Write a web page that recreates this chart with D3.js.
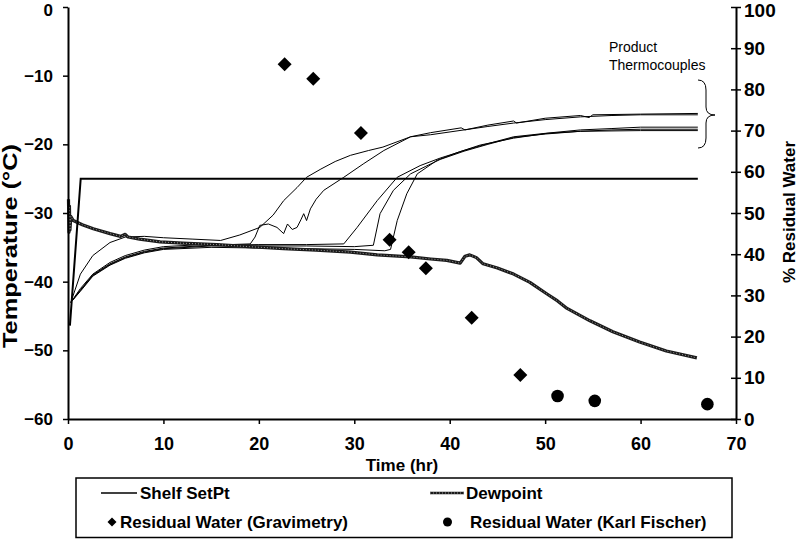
<!DOCTYPE html>
<html><head><meta charset="utf-8">
<script src="https://cdn.jsdelivr.net/npm/d3@7"></script>
<style>
html,body{margin:0;padding:0;background:#fff;}
svg{display:block;}
text{font-family:"Liberation Sans",Arial,sans-serif;}
</style></head>
<body>
<svg id="chart" width="799" height="539"></svg>
<script>
// ---- data ----
const xTicks = [0,10,20,30,40,50,60,70];
const yLeftTicks = [0,-10,-20,-30,-40,-50,-60];
const yRightTicks = [0,10,20,30,40,50,60,70,80,90,100];

const shelfSetPt = [[0.2,-46.4],[1.33,-25],[66,-25]];

const dewpoint = [[0.05,-28],[0.1,-32.8],[0.15,-29],[0.2,-32.5],[0.3,-30.5],[0.55,-31.1],[1.5,-31.7],[2.65,-32.3],[4.4,-33],[5.5,-33.4],[6,-33.1],[6.3,-33.5],[7.5,-33.8],[9.65,-34.2],[12,-34.4],[15.6,-34.6],[19,-34.9],[22.6,-35.2],[26,-35.4],[29.6,-35.7],[32.4,-36.1],[35.9,-36.4],[38,-36.7],[39.7,-36.9],[41.1,-37.3],[41.6,-36.3],[42.1,-36.1],[42.8,-36.5],[43.5,-37.4],[45,-38],[46.7,-38.9],[48.4,-40.1],[50.2,-41.8],[51.3,-42.8],[52.3,-43.9],[54.7,-45.7],[57.1,-47.3],[59.9,-48.8],[62.7,-50.1],[65.9,-51.1]];

const tc1 = [[0.3,-43],[1.3,-38.9],[2.6,-36.2],[4.4,-34.3],[6,-33.5],[8,-33.4],[10,-33.6],[13,-33.8],[16,-34],[18,-33.2],[20.1,-32.1],[21.5,-30.3],[22.6,-28.2],[24,-26.3],[25,-24.8],[26.5,-23.6],[28,-22.5],[29.6,-21.6],[31.5,-20.9],[33,-20.4],[35.9,-18.9],[38,-18.3],[41.2,-17.6],[41.6,-17.9],[44,-17.2],[46.7,-16.6],[47,-16.9],[50,-16.2],[53.7,-15.8],[54.6,-16.1],[55,-15.7],[60,-15.6],[66,-15.5]];
const tc2 = [[0.3,-43],[1.3,-41],[2.6,-38.9],[4.4,-37.2],[6,-36.2],[8,-35.4],[10,-34.9],[14,-34.6],[17,-34.6],[19.1,-34.5],[19.6,-33.5],[20.1,-31.8],[21,-31.6],[21.9,-32.1],[22.6,-33],[23,-31.6],[23.5,-32.4],[24,-32.1],[24.4,-31],[24.7,-30.1],[25,-31.1],[25.4,-29.4],[26,-28],[26.8,-26.7],[28.9,-24.8],[31,-22.8],[33.1,-20.9],[35.9,-18.9],[38,-18.6],[41.5,-17.9],[44,-17.4],[46.7,-16.9],[50,-16.4],[53.7,-16],[57,-15.8],[60,-15.7],[66,-15.7]];
const tc3 = [[0.3,-43],[1.3,-41.2],[2.6,-39],[4.4,-37.4],[6,-36.4],[8,-35.6],[10,-35.1],[15,-34.7],[20,-34.6],[25,-34.6],[28.9,-34.5],[30.3,-32.1],[32.4,-28.2],[34.5,-24.8],[36.9,-23.1],[39,-22],[41.5,-20.9],[44,-19.9],[46.7,-18.9],[50,-18.4],[53.7,-17.9],[57,-17.7],[60,-17.5],[66,-17.5]];
const tc4 = [[0.3,-43],[1.3,-41.3],[2.6,-39.1],[4.4,-37.5],[6,-36.5],[8,-35.7],[10,-35.2],[15,-34.8],[20,-34.8],[25,-34.8],[30,-34.9],[32,-34.7],[32.7,-30.1],[34.1,-26.7],[35.9,-24.3],[37.5,-23.2],[39,-22.2],[41.5,-21],[44,-20],[46.7,-19],[50,-18.5],[53.7,-18.1],[57,-17.9],[60,-17.8],[66,-17.8]];
const tc5 = [[0.3,-43],[1.3,-41.4],[2.6,-39.2],[4.4,-37.6],[6,-36.6],[8,-35.8],[10,-35.3],[15,-35],[20,-35.1],[25,-35.2],[30,-35.3],[33.2,-35.5],[33.8,-35.3],[34.1,-33.5],[34.5,-31.1],[35.5,-27.2],[36.6,-24.3],[38.7,-22.3],[41,-21.1],[43.2,-20.1],[46.7,-19.1],[50.2,-18.4],[53.7,-18.1],[60,-18],[66,-18]];
const thermocouples = [tc1, tc2, tc3, tc4, tc5];

const gravTime = [22.7,25.7,30.7,33.7,35.7,37.5,42.3,47.4];
const gravWater = [86.1,82.6,69.4,43.5,40.5,36.6,24.6,10.7];
const kfTime = [51.3,55.2,67.0];
const kfWater = [5.6,4.4,3.6];

const legendLabels = ["Shelf SetPt","Dewpoint","Residual Water (Gravimetry)","Residual Water (Karl Fischer)"];
const annotation = ["Product","Thermocouples"];

// ---- chart ----
const svg = d3.select("#chart");
const x = d3.scaleLinear().domain([0,70]).range([68,736]);
const yL = d3.scaleLinear().domain([-60,0]).range([419,7]);
const yR = d3.scaleLinear().domain([0,100]).range([419,7]);
const FONT = '"Liberation Sans",Arial,sans-serif';

const line = d3.line().x(d=>x(d[0])).y(d=>yL(d[1]));

// thermocouples
svg.append("g").selectAll("path").data(thermocouples).join("path")
  .attr("d", line).attr("fill","none").attr("stroke","#000").attr("stroke-width",1);

// dewpoint (textured)
function dewStyle(sel){
  sel.append("path").attr("fill","none").attr("stroke","#1a1a1a").attr("stroke-width",3.2).attr("stroke-linejoin","round");
  sel.append("path").attr("fill","none").attr("stroke","#9a9a9a").attr("stroke-width",1).attr("stroke-dasharray","1,2");
}
const dg = svg.append("g");
dewStyle(dg);
dg.selectAll("path").attr("d", line(dewpoint));

// shelf
svg.append("path").attr("d", line(shelfSetPt)).attr("fill","none").attr("stroke","#000").attr("stroke-width",2);

// markers
const diamond = (cx,cy,r)=>`M${cx},${cy-r}L${cx+r},${cy}L${cx},${cy+r}L${cx-r},${cy}Z`;
svg.append("g").selectAll("path").data(gravTime).join("path")
  .attr("d",(t,i)=>diamond(x(t),yR(gravWater[i]),7)).attr("fill","#000");
svg.append("g").selectAll("circle").data(kfTime).join("circle")
  .attr("cx",t=>x(t)).attr("cy",(t,i)=>yR(kfWater[i])).attr("r",6.3).attr("fill","#000");

// axes
const gx = svg.append("g").attr("transform","translate(0,419)")
  .call(d3.axisBottom(x).tickValues(xTicks).tickSize(5).tickSizeOuter(0).tickFormat(d3.format("d")));
const gl = svg.append("g").attr("transform","translate(68,0)")
  .call(d3.axisLeft(yL).tickValues(yLeftTicks).tickSize(5).tickSizeOuter(0).tickPadding(10).tickFormat(d3.format("d")));
const gr = svg.append("g").attr("transform","translate(736,0)")
  .call(d3.axisRight(yR).tickValues(yRightTicks).tickSize(5).tickSizeOuter(0).tickPadding(3).tickFormat(d3.format("d")));
gr.selectAll(".tick line").attr("x1",-5).attr("x2",5);
[gx,gl,gr].forEach(g=>{
  g.attr("font-family",FONT).attr("font-weight","bold");
  g.select(".domain").attr("stroke","#000").attr("stroke-width",2);
  g.selectAll(".tick line").attr("stroke","#000").attr("stroke-width",1.5);
  g.selectAll(".tick text").style("font-family",FONT).style("font-weight","bold").attr("fill","#000");
});
gl.selectAll(".tick text").style("font-size","17px").attr("x",-15);
gx.selectAll(".tick text").style("font-size","18px").attr("y",18);
gr.selectAll(".tick text").style("font-size","19px").attr("x",8);
// keep top labels inside the picture
gl.selectAll(".tick text").filter(d=>d===0).attr("dy","0.5em");
gr.selectAll(".tick text").filter(d=>d===100).attr("dy","0.5em");

// axis titles
svg.append("text").attr("x",402).attr("y",471).attr("text-anchor","middle")
  .attr("font-family",FONT).attr("font-size",17).attr("font-weight","bold").text("Time (hr)");
svg.append("text").attr("transform","translate(17,246) rotate(-90)").attr("text-anchor","middle")
  .attr("textLength",204).attr("lengthAdjust","spacingAndGlyphs")
  .attr("font-family",FONT).attr("font-size",20).attr("font-weight","bold").text("Temperature (°C)");
svg.append("text").attr("transform","translate(795,212) rotate(-90)").attr("text-anchor","middle")
  .attr("font-family",FONT).attr("font-size",17).attr("font-weight","bold").text("% Residual Water");

// annotation
svg.append("text").attr("x",609).attr("y",52).attr("font-family",FONT).attr("font-size",14).text(annotation[0]);
svg.append("text").attr("x",609).attr("y",70).attr("font-family",FONT).attr("font-size",14).text(annotation[1]);
svg.append("path").attr("d","M698,80 Q706,80 706,90 L706,107 Q706,115 715,115 Q706,115 706,123 L706,138 Q706,148 698,148")
  .attr("fill","none").attr("stroke","#000").attr("stroke-width",1);

// legend
const lg = svg.append("g");
lg.append("rect").attr("x",76).attr("y",478).attr("width",656).attr("height",59.5)
  .attr("fill","#fff").attr("stroke","#000").attr("stroke-width",1.5);
lg.append("line").attr("x1",101).attr("x2",137).attr("y1",493).attr("y2",493).attr("stroke","#000").attr("stroke-width",1.5);
const ldg = lg.append("g"); dewStyle(ldg);
ldg.selectAll("path").attr("d","M430,493L464,493").attr("stroke-width",(d,i)=>i===0?2.5:1);
lg.append("path").attr("d",diamond(112,522,4.5)).attr("fill","#000");
lg.append("circle").attr("cx",447.5).attr("cy",522).attr("r",4.5).attr("fill","#000");
const lpos = [[140,493],[466,493],[120,522],[470,522]];
lg.selectAll("text").data(legendLabels).join("text")
  .attr("x",(d,i)=>lpos[i][0]).attr("y",(d,i)=>lpos[i][1]).attr("dy","0.35em")
  .attr("font-family",FONT).attr("font-size",17).attr("font-weight","bold").text(d=>d);
</script>
</body></html>
